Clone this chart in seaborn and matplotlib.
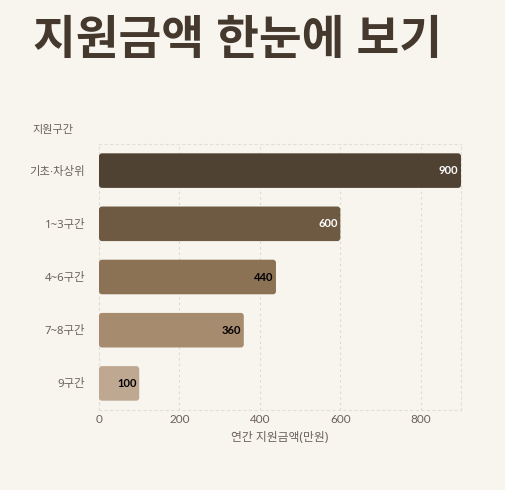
import matplotlib
matplotlib.use("Agg")
import matplotlib.pyplot as plt
import seaborn as sns
import pandas as pd
from matplotlib.patches import FancyBboxPatch

categories = ["기초·차상위", "1~3구간", "4~6구간", "7~8구간", "9구간"]
amounts = [900, 600, 440, 360, 100]
bar_colors = ["#504232", "#6e5a43", "#8c7255", "#a68b6e", "#bea891"]
label_colors = ["white", "white", "black", "black", "black"]
x_ticks = [0, 200, 400, 600, 800]

sns.set_theme(style="white")
plt.rcParams["font.family"] = ["Noto Sans", "Noto Sans CJK KR", "DejaVu Sans"]

bg = "#f8f5ef"
txt = "#6b6258"
df = pd.DataFrame({"구간": categories, "금액": amounts})

fig = plt.figure(figsize=(5.06, 4.90), dpi=100, facecolor=bg)
ax_w, ax_h = 362, 266
ax = fig.add_axes([99 / 506, 80 / 490, ax_w / 506, ax_h / 490])
ax.set_facecolor(bg)

sns.barplot(data=df, x="금액", y="구간", hue="구간", palette=bar_colors,
            width=0.65, saturation=1, legend=False, ax=ax)

# round the bar corners (radius about 3 px)
xpp = 900 / ax_w
ypp = 5 / ax_h
for patch in list(ax.patches):
    x0, y0 = patch.get_x(), patch.get_y()
    w, h = patch.get_width(), patch.get_height()
    fc = patch.get_facecolor()
    patch.remove()
    ax.add_patch(FancyBboxPatch((x0, y0), w, h,
                                boxstyle=f"round,pad=0,rounding_size={3 * xpp}",
                                mutation_aspect=ypp / xpp,
                                facecolor=fc, edgecolor="none", zorder=2))

for i, (v, c) in enumerate(zip(amounts, label_colors)):
    ax.text(v - 6, i, f"{v}", ha="right", va="center", color=c,
            fontsize=8, fontweight="bold", family=["Lato", "DejaVu Sans"], zorder=3)

ax.set_xlim(0, 900)
ax.set_ylim(4.5, -0.5)
ax.set_xticks(x_ticks)
ax.set_xticklabels([str(t) for t in x_ticks], family=["Lato", "DejaVu Sans"])
ax.grid(axis="x", color="#dcd8d2", linestyle=(0, (2, 3)), linewidth=0.8, zorder=0)
ax.set_axisbelow(True)
for s in ax.spines.values():
    s.set_visible(True)
    s.set_color("#e2ded8")
    s.set_linestyle((0, (2, 3)))
    s.set_linewidth(0.8)
    s.set_zorder(1)

ax.tick_params(axis="x", length=0, colors=txt, labelsize=8.5, pad=3)
ax.tick_params(axis="y", length=6, width=0.8, color="#ebe7e1",
               labelcolor=txt, labelsize=8.2, pad=4)
ax.set_xlabel("연간 지원금액(만원)", color=txt, fontsize=8.5, labelpad=4)
ax.set_ylabel("")
fig.text(32 / 506, 1 - 131 / 490, "지원구간", color=txt, fontsize=8,
         va="center", ha="left")

fig.text(33 / 506, 1 - 41 / 490, "지원금액 한눈에 보기", color="#45392e",
         fontsize=33.5, fontweight="bold", va="center", ha="left")

fig.savefig("out.png", dpi=100, facecolor=bg)
